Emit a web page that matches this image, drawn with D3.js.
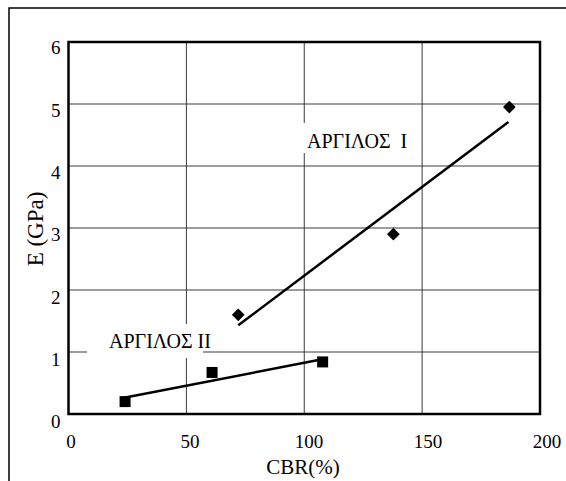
<!DOCTYPE html>
<html>
<head>
<meta charset="utf-8">
<script src="https://cdn.jsdelivr.net/npm/d3@7/dist/d3.min.js"></script>
<style>
  html, body { margin: 0; padding: 0; background: #fff; }
  svg { display: block; }
</style>
</head>
<body>
<svg id="chart" width="566" height="481"></svg>
<script>
// Clay I (ΑΡΓΙΛΟΣ Ι): CBR (%) vs E (GPa)
const clayI_cbr = [72, 137.8, 187];
const clayI_E   = [1.60, 2.90, 4.95];
// Clay II (ΑΡΓΙΛΟΣ ΙΙ)
const clayII_cbr = [24, 60.9, 107.8];
const clayII_E   = [0.20, 0.67, 0.84];
// Linear trend line end points [CBR, E]
const trendI  = [[72, 1.43], [186.6, 4.71]];
const trendII = [[21.9, 0.25], [106, 0.87]];
// Axis ticks
const xTicks = [0, 50, 100, 150, 200];
const yTicks = [0, 1, 2, 3, 4, 5, 6];
const xTitle = "CBR(%)";
const yTitle = "E (GPa)";
const labelI = "ΑΡΓΙΛΟΣ\u00a0\u00a0Ι";
const labelII = "ΑΡΓΙΛΟΣ ΙΙ";

const FONT = "'Liberation Serif', 'Times New Roman', serif";

const svg = d3.select("#chart");
const plot = { left: 68.5, right: 540, top: 42, bottom: 414 };

const x = d3.scaleLinear().domain([0, 200]).range([plot.left, plot.right]);
const y = d3.scaleLinear().domain([0, 6]).range([plot.bottom, plot.top]);
// tick labels sit slightly offset from the grid, as in the spreadsheet layout
const xLab = d3.scaleLinear().domain([0, 200]).range([70.5, 546.5]);
const yLab = d3.scaleLinear().domain([0, 6]).range([421.5, 47.5]);

// outer frame
svg.append("rect")
  .attr("x", 9).attr("y", 8).attr("width", 700).attr("height", 700)
  .attr("fill", "none").attr("stroke", "#000").attr("stroke-width", 1.5);

// grid
const grid = svg.append("g").attr("stroke", "#3a3a3a").attr("stroke-width", 1);
grid.selectAll("line.v").data(xTicks.slice(1, -1)).join("line")
  .attr("x1", d => x(d)).attr("x2", d => x(d))
  .attr("y1", plot.top).attr("y2", plot.bottom);
grid.selectAll("line.h").data(yTicks.slice(1, -1)).join("line")
  .attr("x1", plot.left).attr("x2", plot.right)
  .attr("y1", d => y(d)).attr("y2", d => y(d));

// axis tick labels
const xAxis = svg.append("g")
  .attr("transform", `translate(0,${plot.bottom})`)
  .call(d3.axisBottom(xLab).tickValues(xTicks).tickSize(0).tickPadding(0).tickFormat(d3.format("d")));
xAxis.select(".domain").remove();
xAxis.attr("font-family", FONT).attr("font-size", 19);
xAxis.selectAll("text").attr("dy", null).attr("y", 34).attr("fill", "#000");

const yAxis = svg.append("g")
  .attr("transform", "translate(60.5,0)")
  .call(d3.axisLeft(yLab).tickValues(yTicks).tickSize(0).tickPadding(0).tickFormat(d3.format("d")));
yAxis.select(".domain").remove();
yAxis.attr("font-family", FONT).attr("font-size", 19);
yAxis.selectAll("text").attr("dy", "0.34em").attr("fill", "#000");

const texts = svg.append("g").attr("font-family", FONT).attr("fill", "#000");

// axis titles
texts.append("text").attr("x", 303).attr("y", 474).attr("text-anchor", "middle")
  .attr("font-size", 21).text(xTitle);
texts.append("text").attr("transform", "translate(43,229) rotate(-90)")
  .attr("text-anchor", "middle").attr("font-size", 23).text(yTitle);

// series labels on white boxes
texts.append("rect").attr("x", 303).attr("y", 123).attr("width", 116).attr("height", 30).attr("fill", "#fff");
texts.append("text").attr("x", 307).attr("y", 147.5).attr("font-size", 20).text(labelI);
texts.append("rect").attr("x", 87).attr("y", 324).attr("width", 116).attr("height", 34).attr("fill", "#fff");
texts.append("text").attr("x", 109).attr("y", 347.5).attr("font-size", 20).text(labelII);

// plot frame
svg.append("rect")
  .attr("x", plot.left).attr("y", plot.top)
  .attr("width", plot.right - plot.left).attr("height", plot.bottom - plot.top)
  .attr("fill", "none").attr("stroke", "#000").attr("stroke-width", 2.5);

// trend lines
const line = d3.line().x(d => x(d[0])).y(d => y(d[1]));
[trendI, trendII].forEach(t => {
  svg.append("path").attr("d", line(t)).attr("fill", "none")
    .attr("stroke", "#000").attr("stroke-width", 2.5);
});

// markers
const ptsI = clayI_cbr.map((c, i) => [c, clayI_E[i]]);
const ptsII = clayII_cbr.map((c, i) => [c, clayII_E[i]]);
svg.append("g").selectAll("path").data(ptsI).join("path")
  .attr("d", d3.symbol(d3.symbolSquare, 81))
  .attr("transform", d => `translate(${x(d[0])},${y(d[1])}) rotate(45)`)
  .attr("fill", "#000");
svg.append("g").selectAll("path").data(ptsII).join("path")
  .attr("d", d3.symbol(d3.symbolSquare, 121))
  .attr("transform", d => `translate(${x(d[0])},${y(d[1])})`)
  .attr("fill", "#000");
</script>
</body>
</html>
